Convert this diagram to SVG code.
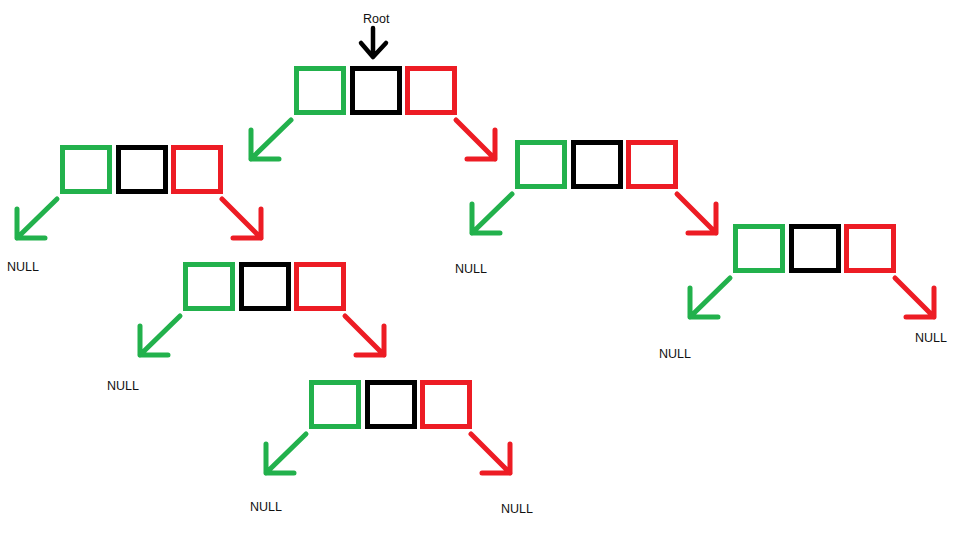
<svg xmlns="http://www.w3.org/2000/svg" width="975" height="548" viewBox="0 0 975 548">
<style>
.g{fill:none;stroke:#22b14c;stroke-width:5}
.k{fill:none;stroke:#000;stroke-width:5}
.r{fill:none;stroke:#ed1c24;stroke-width:5}
.ag{fill:none;stroke:#22b14c;stroke-width:5;stroke-linecap:round;stroke-linejoin:round}
.ar{fill:none;stroke:#ed1c24;stroke-width:5;stroke-linecap:round;stroke-linejoin:round}
.ak{fill:none;stroke:#000;stroke-width:4.5;stroke-linecap:round;stroke-linejoin:round}
text{font-family:"Liberation Sans",Arial,sans-serif;font-size:12.5px;fill:#111}
</style>
<rect width="975" height="548" fill="#fff"/>
<defs>
<g id="node">
<rect class="g" x="2.5" y="2.5" width="47" height="44"/>
<rect class="k" x="58.5" y="2.5" width="47" height="44"/>
<rect class="r" x="113.5" y="2.5" width="47" height="44"/>
</g>
</defs>
<g id="root"><use href="#node" x="294" y="66"/></g>
<g id="n2"><use href="#node" x="60" y="145"/></g>
<g id="n3"><use href="#node" x="183" y="262"/></g>
<g id="n4"><use href="#node" x="309" y="380"/></g>
<g id="n5"><use href="#node" x="515" y="140"/></g>
<g id="n6"><use href="#node" x="733" y="224"/></g>
<g id="connectors">
<path class="ak" d="M373 28 L373 57 M361 43 L373 57 L386 43"/>
<path class="ag" d="M291 120 L251 159 M251 130 L251 159 L279 159"/>
<path class="ar" d="M456 120 L495 159 M495 130 L495 159 L467 159"/>
<path class="ag" d="M57 199 L17 238 M17 209 L17 238 L45 238"/>
<path class="ar" d="M222 199 L261 238 M261 209 L261 238 L233 238"/>
<path class="ag" d="M180 316 L140 355 M140 326 L140 355 L168 355"/>
<path class="ar" d="M345 316 L384 355 M384 326 L384 355 L356 355"/>
<path class="ag" d="M306 434 L266 473 M266 444 L266 473 L294 473"/>
<path class="ar" d="M471 434 L510 473 M510 444 L510 473 L482 473"/>
<path class="ag" d="M512 194 L472 233 M472 204 L472 233 L500 233"/>
<path class="ar" d="M677 194 L716 233 M716 204 L716 233 L688 233"/>
<path class="ag" d="M730 278 L690 317 M690 288 L690 317 L718 317"/>
<path class="ar" d="M895 278 L934 317 M934 288 L934 317 L906 317"/>
</g>
<g id="labels">
<text x="363" y="22.5">Root</text>
<text x="7" y="271">NULL</text>
<text x="107" y="390">NULL</text>
<text x="250" y="511">NULL</text>
<text x="501" y="513">NULL</text>
<text x="455" y="273">NULL</text>
<text x="659" y="358">NULL</text>
<text x="915" y="342">NULL</text>
</g>
</svg>
